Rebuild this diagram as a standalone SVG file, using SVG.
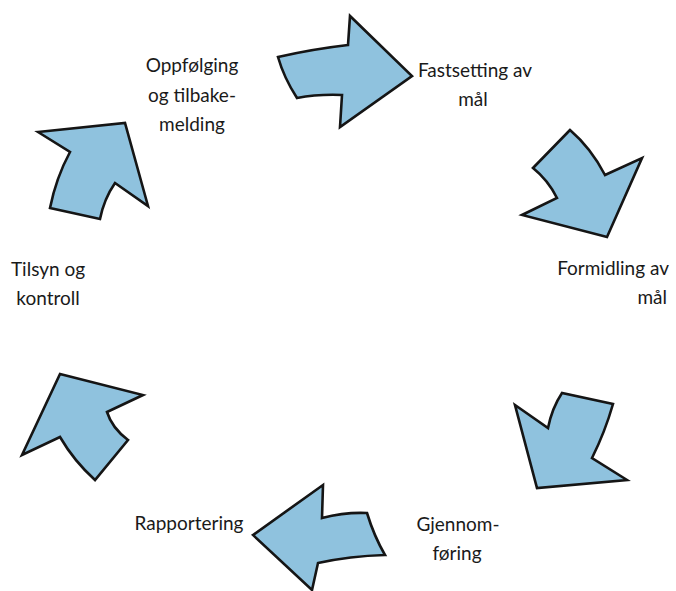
<svg xmlns="http://www.w3.org/2000/svg" width="676" height="591" viewBox="0 0 676 591">
  <style>
    .arrow { fill: #8fc2de; stroke: #151515; stroke-width: 2.6; stroke-linejoin: miter; }
    .lbl { font-family: Lato, "Open Sans", "Liberation Sans", sans-serif; font-size: 19px; fill: #1a1a1a; }
    .c { text-anchor: middle; }
    .r { text-anchor: end; }
  </style>
  <rect width="676" height="591" fill="#ffffff"/>

  <g id="connectors">
    <!-- top: pointing right -->
    <path class="arrow" d="M278,57 Q313,49 348,45 L350,16 L412,76 L340,127 L342,95 Q318,94 297,98 Q284,78 278,57 Z"/>
    <!-- upper right: pointing down-right -->
    <path class="arrow" d="M570,130 L533,168 Q548,180 557,198 L522,215 L607,237 L642,158 L605,175 Q591,148 570,130 Z"/>
    <!-- lower right: pointing down-left -->
    <path class="arrow" d="M515,405 L548,428 Q552,408 562,393 L613,404 Q605,432 592,458 L627,480 L537,488 Z"/>
    <!-- bottom: pointing left -->
    <path class="arrow" d="M253,535 L323,485 L322,518 Q345,512 367,513 Q374,536 385,555 Q350,556 318,563 L312,590 Z"/>
    <!-- lower left: pointing up-left -->
    <path class="arrow" d="M60,374 L143,395 L107,412 Q112,428 128,440 L95,480 Q74,461 60,437 L22,455 Z"/>
    <!-- upper left: pointing up-right -->
    <path class="arrow" d="M38,132 L125,123 L148,206 L115,183 Q104,199 100,219 L50,208 Q56,178 70,152 Z"/>
  </g>

  <g id="n-oppfolging">
    <text class="lbl c" x="192" y="72">Oppfølging</text>
    <text class="lbl c" x="192" y="101.5">og tilbake-</text>
    <text class="lbl c" x="192" y="131">melding</text>
  </g>
  <g id="n-fastsetting">
    <text class="lbl c" x="475" y="77">Fastsetting av</text>
    <text class="lbl c" x="473" y="106">mål</text>
  </g>
  <g id="n-formidling">
    <text class="lbl r" x="669" y="275">Formidling av</text>
    <text class="lbl r" x="667" y="304">mål</text>
  </g>
  <g id="n-gjennomforing">
    <text class="lbl c" x="458" y="531">Gjennom-</text>
    <text class="lbl c" x="457" y="560">føring</text>
  </g>
  <g id="n-rapportering">
    <text class="lbl c" x="189" y="530">Rapportering</text>
  </g>
  <g id="n-tilsyn">
    <text class="lbl c" x="48" y="276">Tilsyn og</text>
    <text class="lbl c" x="48" y="305">kontroll</text>
  </g>
</svg>
